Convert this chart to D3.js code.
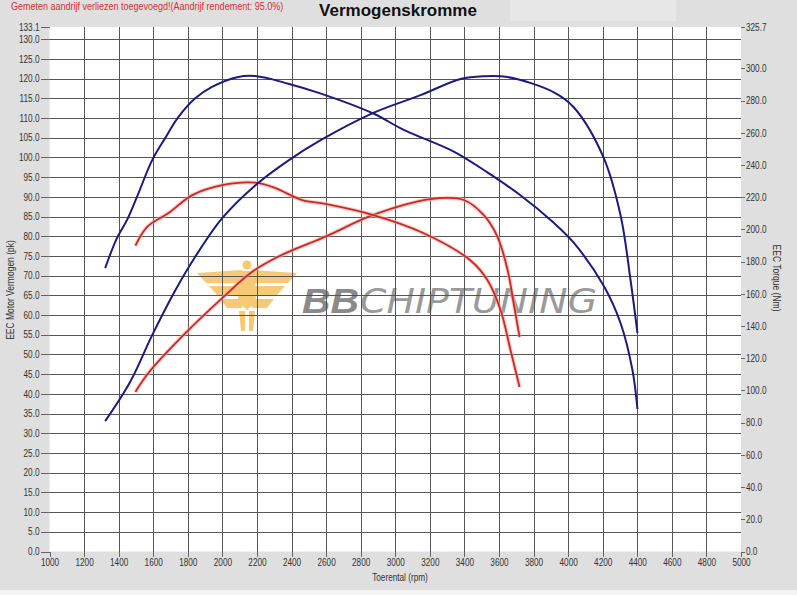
<!DOCTYPE html>
<meta charset="utf-8">
<style>
  body { margin: 0; background: #dfdfdf; }
  text { font-family: Arial, "Liberation Sans", sans-serif; fill: #333; }
  .grid line { stroke: #555; stroke-width: 1; shape-rendering: crispEdges; }
  .axis line { stroke: #666; shape-rendering: crispEdges; }
  .axis path { display: none; }
  .axis text { font-size: 10px; fill: #333; }
</style>
<svg width="797" height="595"></svg>
<script src="https://cdn.jsdelivr.net/npm/d3@7"></script>
<script>
  // ticks
  var rpmTicks = d3.range(1000, 5001, 200);
  var pkTicks = d3.range(0, 131, 5).concat([133.1]);
  var nmTicks = d3.range(0, 301, 20).concat([325.7]);

  // blue = tuned, red = original  [rpm, value]
  var bluePower = [[1322,33.1],[1467,43.1],[1594,54.9],[1728,66.3],[1843,74.8],[1999,84.6],[2190,92.9],
    [2381,99.2],[2566,104.3],[2873,111.3],[3146,115.8],[3378,119.9],[3511,120.6],[3650,120.4],
    [3915,116.6],[4031,112.8],[4204,100.1],[4303,85.4],[4361,68.9],[4401,55.4]];
  var blueTorque = [[1322,176],[1390,194.6],[1448,205.8],[1506,220.2],[1594,243],[1669,256.7],[1745,269.7],
    [1843,281.4],[1940,288.5],[2092,294.7],[2190,295.2],[2381,290.5],[2566,284.5],[2873,272],[3046,262],
    [3336,248.5],[3533,235.4],[3724,221.2],[3915,204.3],[4031,191.9],[4204,165.3],
    [4303,141.9],[4372,112.7],[4401,88.5]];
  var redPower = [[1497,40.5],[1572,45.3],[1786,55.4],[1999,64.3],[2173,71.0],[2346,75.3],[2596,79.9],
    [2873,85.4],[3203,89.4],[3396,89.2],[3511,85.4],[3592,79.8],[3650,71.4],[3685,63.0],[3719,54.4]];
  var redTorque = [[1497,189.9],[1565,201.6],[1689,210.2],[1826,221.3],[1999,227.5],[2190,229],[2306,225.7],
    [2462,218.2],[2596,215.8],[2873,208.9],[3162,197.8],[3434,180.9],[3533,168.6],[3609,150],
    [3667,125],[3719,102.1]];

  var svg = d3.select("svg");
  var pL = 49.5, pR = 741, pT = 27, pB = 551.5;

  var x = d3.scaleLinear().domain([1000, 5000]).range([pL, pR]);
  var y = d3.scaleLinear().domain([0, 133.1]).range([pB, pT]);
  var yNm = d3.scaleLinear().domain([0, 325.7]).range([pB, pT]);

  // squeeze text horizontally (the original uses a narrow font)
  function narrow(sel, k) {
    sel.each(function() {
      var w = this.getComputedTextLength();
      d3.select(this).attr("textLength", w * k).attr("lengthAdjust", "spacingAndGlyphs");
    });
  }

  // header
  svg.append("rect").attr("x", 510).attr("y", 0).attr("width", 166).attr("height", 21).attr("fill", "#e7e7e7");
  svg.append("rect").attr("x", 0).attr("y", 590).attr("width", 797).attr("height", 5).attr("fill", "#f4f4f4");
  svg.append("text").attr("x", 11).attr("y", 10)
    .style("font-size", "10px").style("fill", "#d03030")
    .text("Gemeten aandrijf verliezen toegevoegd!(Aandrijf rendement: 95.0%)")
    .call(narrow, 0.9);
  svg.append("text").attr("x", 398).attr("y", 16).attr("text-anchor", "middle")
    .style("font-size", "17px").style("font-weight", "bold").style("fill", "#111")
    .text("Vermogenskromme");

  // plot area
  svg.append("rect").attr("x", pL).attr("y", pT).attr("width", pR - pL).attr("height", pB - pT)
    .attr("fill", "#fff");

  // watermark
  var logo = svg.append("g").attr("transform", "translate(247,0)").attr("opacity", 0.8);
  var gold = "#f5bd4f";
  logo.append("circle").attr("cx", 0).attr("cy", 265).attr("r", 4.5).attr("fill", gold);
  logo.append("path").attr("fill", gold)
    .attr("d", "M-50,273 L-5,270 L-5,283 L-41,283 Z M50,273 L5,270 L5,283 L41,283 Z" +
      "M-38,286 L-5,286 L-5,296 L-29,296 Z M38,286 L5,286 L5,296 L29,296 Z" +
      "M-27,299 L-5,299 L-5,308 L-20,308 Z M27,299 L5,299 L5,308 L20,308 Z");
  logo.append("path").attr("fill", gold)
    .attr("d", "M-8,271 L8,271 L9,302 L0,310 L-9,302 Z M-8,311 L-2,311 L-2,331 L-6,331 Z M2,311 L8,311 L6,331 L2,331 Z");
  svg.append("text").attr("x", 302).attr("y", 313)
    .style("font-size", "35px").style("font-weight", "bold")
    .style("font-style", "italic").style("fill", "#8a8a8a")
    .attr("textLength", 57).attr("lengthAdjust", "spacingAndGlyphs").text("BB");
  svg.append("text").attr("x", 360).attr("y", 313)
    .style("font-family", "'DejaVu Sans', sans-serif").style("font-size", "34px").style("font-weight", 200)
    .style("font-style", "italic").style("fill", "#9a9a9a")
    .attr("textLength", 237).attr("lengthAdjust", "spacingAndGlyphs").text("CHIPTUNING");

  // grid
  var grid = svg.append("g").attr("class", "grid");
  grid.selectAll(".v").data(rpmTicks.slice(1, -1)).enter().append("line")
    .attr("x1", d => Math.round(x(d)) + 0.5).attr("x2", d => Math.round(x(d)) + 0.5)
    .attr("y1", pT).attr("y2", pB);
  grid.selectAll(".h").data(pkTicks.filter(d => d > 0 && d <= 130)).enter().append("line")
    .attr("x1", pL).attr("x2", pR)
    .attr("y1", d => Math.round(y(d)) + 0.5).attr("y2", d => Math.round(y(d)) + 0.5);

  // axes
  svg.append("g").attr("class", "axis").attr("transform", "translate(" + pL + ",0)")
    .call(d3.axisLeft(y).tickValues(pkTicks).tickSize(9).tickPadding(1).tickFormat(d3.format(".1f")))
    .selectAll("text").call(narrow, 0.82);
  svg.append("g").attr("class", "axis").attr("transform", "translate(" + pR + ",0)")
    .call(d3.axisRight(yNm).tickValues(nmTicks).tickSize(4).tickPadding(1).tickFormat(d3.format(".1f")))
    .selectAll("text").call(narrow, 0.82);
  svg.append("g").attr("class", "axis").attr("transform", "translate(0," + pB + ")")
    .call(d3.axisBottom(x).tickValues(rpmTicks).tickSize(5).tickPadding(2).tickFormat(d3.format("d")))
    .selectAll("text").call(narrow, 0.82);

  svg.append("text").attr("transform", "translate(14,290) rotate(-90)").attr("text-anchor", "middle")
    .style("font-size", "10px").text("EEC Motor Vermogen (pk)").call(narrow, 0.85);
  svg.append("text").attr("transform", "translate(773,278) rotate(90)").attr("text-anchor", "middle")
    .style("font-size", "10px").text("EEC Torque (Nm)").call(narrow, 0.85);
  svg.append("text").attr("x", 400).attr("y", 581).attr("text-anchor", "middle")
    .style("font-size", "10px").text("Toerental (rpm)").call(narrow, 0.82);

  // curves
  var linePk = d3.line().x(d => x(d[0])).y(d => y(d[1])).curve(d3.curveCatmullRom.alpha(0.5));
  var lineNm = d3.line().x(d => x(d[0])).y(d => yNm(d[1])).curve(d3.curveCatmullRom.alpha(0.5));

  [[redPower, linePk], [redTorque, lineNm]].forEach(function(s) {
    svg.append("path").attr("d", s[1](s[0])).attr("fill", "none")
      .attr("stroke", "#f2a8a8").attr("stroke-width", 4).attr("stroke-opacity", 0.6);
    svg.append("path").attr("d", s[1](s[0])).attr("fill", "none")
      .attr("stroke", "#c92a22").attr("stroke-width", 1.8);
  });
  [[bluePower, linePk], [blueTorque, lineNm]].forEach(function(s) {
    svg.append("path").attr("d", s[1](s[0])).attr("fill", "none")
      .attr("stroke", "#1b1b7d").attr("stroke-width", 2);
  });
</script>
